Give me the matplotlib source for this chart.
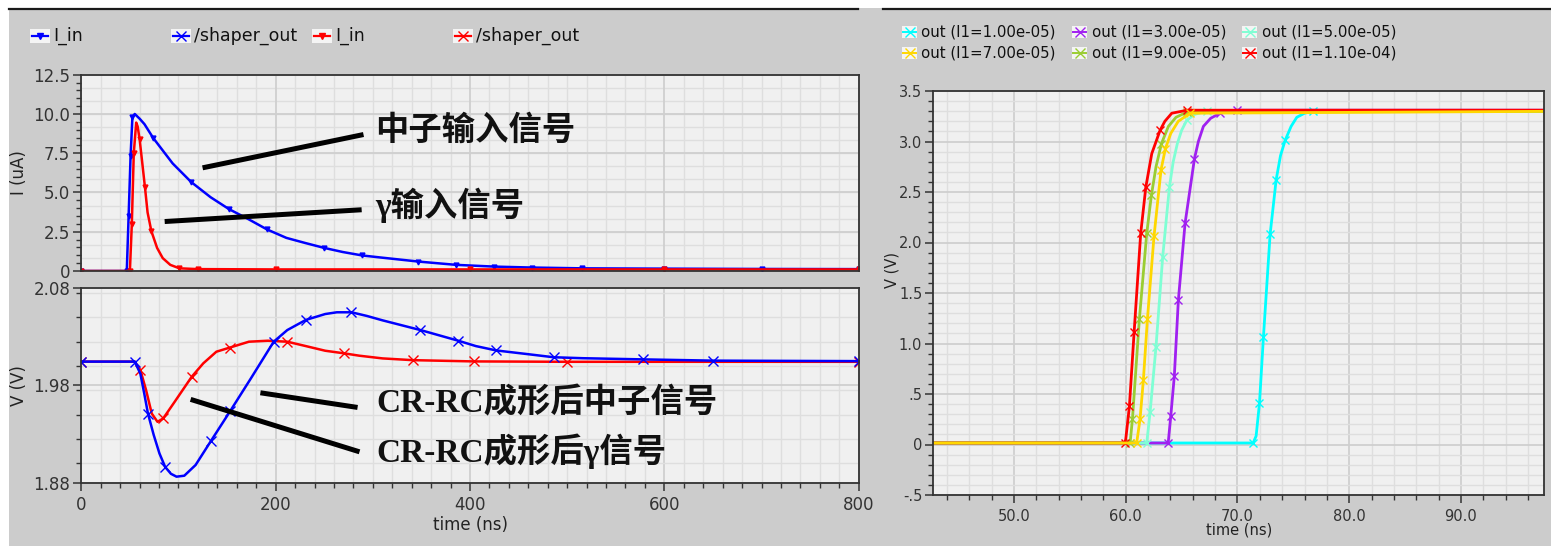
import numpy as np
import matplotlib
matplotlib.use("Agg")
import matplotlib.pyplot as plt
from matplotlib.lines import Line2D
from matplotlib.patches import Rectangle
from matplotlib.ticker import MultipleLocator

plt.rcParams["font.family"] = ["DejaVu Sans", "Noto Sans CJK SC"]

# ---------- data: left top (input currents, uA) ----------
t_neu_in = [0, 46.8, 48.7, 50.7, 52.6, 55, 60, 65, 74, 94, 113, 133, 152, 172, 191,
            211, 230, 250, 269, 289, 308, 347, 386, 425, 464, 515, 600, 700, 800]
i_neu_in = [0, 0, 3.5, 7.3, 9.8, 10.0, 9.7, 9.35, 8.47, 6.85, 5.67, 4.70, 3.94, 3.30, 2.65,
            2.11, 1.79, 1.47, 1.21, 0.99, 0.86, 0.60, 0.39, 0.28, 0.22, 0.17, 0.15, 0.13, 0.12]
t_gam_in = [0, 50, 52, 54, 56.5, 58, 60, 62.4, 65.5, 68.2, 72.1, 78, 83.8, 91.6, 101,
            120, 200, 400, 600, 800]
i_gam_in = [0, 0, 3.0, 7.5, 9.45, 9.2, 8.4, 7.07, 5.34, 3.73, 2.54, 1.47, 0.82, 0.39, 0.17,
            0.12, 0.10, 0.10, 0.10, 0.10]

# ---------- data: left bottom (CR-RC shaper output, V) ----------
t_neu_out = [0, 55, 60.8, 64.7, 68.6, 74.5, 80.4, 86.3, 92.2, 98, 106, 117.6, 133.3, 153,
             174.5, 198, 212, 231, 251, 263, 278, 294, 310, 349, 388, 406, 427, 461, 486,
             516, 578, 650, 800]
v_neu_out = [2.0045, 2.0045, 1.992, 1.972, 1.951, 1.929, 1.910, 1.896, 1.889, 1.886, 1.887,
             1.898, 1.9226, 1.9532, 1.9872, 2.025, 2.037, 2.0474, 2.0535, 2.0553, 2.0553,
             2.0515, 2.047, 2.037, 2.026, 2.0205, 2.016, 2.012, 2.009, 2.008, 2.0068,
             2.0055, 2.005]
t_gam_out = [0, 55, 60.8, 66.7, 72.5, 78.4, 84.3, 96, 113.7, 125.5, 139, 153, 172.5, 192,
             212, 231, 251, 270.6, 286, 310, 341, 404, 500, 800]
v_gam_out = [2.0045, 2.0045, 1.9958, 1.975, 1.951, 1.9425, 1.946, 1.963, 1.989, 2.0027,
             2.0147, 2.019, 2.025, 2.026, 2.025, 2.0205, 2.0157, 2.013, 2.0106, 2.0078,
             2.006, 2.0047, 2.0043, 2.0043]

# ---------- data: right (comparator out vs I1) ----------
out_labels = ["out (I1=1.00e-05)", "out (I1=3.00e-05)", "out (I1=5.00e-05)",
              "out (I1=7.00e-05)", "out (I1=9.00e-05)", "out (I1=1.10e-04)"]
out_colors = ["#00ffff", "#a020f0", "#7fffd4", "#ffd700", "#9acd32", "#ff0000"]
t_out = [
    [40, 71.4, 71.67, 71.97, 72.32, 72.92, 73.46, 73.85, 74.26, 74.8, 75.31, 76.0, 76.8, 100],
    [40, 63.8, 64.03, 64.35, 64.71, 65.31, 66.15, 66.5, 66.95, 67.6, 68.44, 69.94, 100],
    [40, 61.88, 62.18, 62.71, 63.31, 63.91, 64.25, 64.62, 65.0, 65.46, 66.2, 67.25, 100],
    [40, 60.98, 61.28, 61.58, 61.94, 62.53, 63.16, 63.55, 64.03, 64.7, 65.76, 100],
    [40, 60.39, 60.6, 61.22, 61.88, 62.3, 62.71, 63.2, 63.82, 64.5, 65.46, 100],
    [40, 59.9, 60.0, 60.33, 60.75, 61.34, 61.8, 62.33, 63.07, 63.5, 64.12, 65.5, 100],
]
v_out = [
    [0.015, 0.015, 0.085, 0.41, 1.06, 2.08, 2.62, 2.86, 3.01, 3.15, 3.24, 3.28, 3.30, 3.30],
    [0.015, 0.015, 0.28, 0.68, 1.43, 2.19, 2.83, 3.0, 3.15, 3.23, 3.28, 3.31, 3.31],
    [0.015, 0.015, 0.32, 0.97, 1.86, 2.55, 2.80, 2.98, 3.11, 3.21, 3.27, 3.30, 3.30],
    [0.015, 0.015, 0.25, 0.64, 1.24, 2.06, 2.72, 2.93, 3.08, 3.20, 3.28, 3.30],
    [0.015, 0.015, 0.25, 1.24, 2.09, 2.47, 2.75, 2.98, 3.15, 3.24, 3.29, 3.30],
    [0.015, 0.015, 0.05, 0.38, 1.11, 2.09, 2.55, 2.88, 3.11, 3.20, 3.28, 3.31, 3.31],
]
draw_order = [0, 1, 2, 4, 5, 3]

W, H = 1551, 546
fig = plt.figure(figsize=(W / 100, H / 100), dpi=100, facecolor="#cccccc")


def fx(x):
    return x / W


def fy(y):
    return 1 - y / H


def ax_at(x0, y0, x1, y1):
    return fig.add_axes([fx(x0), fy(y1), (x1 - x0) / W, (y1 - y0) / H])


def style(ax, fs):
    ax.set_facecolor("#f0f0f0")
    for s in ax.spines.values():
        s.set_color("#333333"); s.set_linewidth(1.3)
    ax.tick_params(which="major", direction="out", length=6, width=1.1,
                   colors="#333333", labelsize=fs, pad=2)
    ax.tick_params(which="minor", direction="out", length=3.5, width=1.0, colors="#333333")
    ax.set_axisbelow(True)
    ax.grid(which="major", color="#cfcfcf", lw=1.3)
    ax.grid(which="minor", color="#dedede", lw=1.0)


# white border + top rule
fig.add_artist(Rectangle((0, fy(8)), 1, 8 / H, transform=fig.transFigure,
                         facecolor="white", edgecolor="none", zorder=-5))
fig.add_artist(Rectangle((0, 0), 9 / W, 1, transform=fig.transFigure,
                         facecolor="white", edgecolor="none", zorder=-5))
for xa, xb in [(9, 858), (883, 1551)]:
    fig.add_artist(Line2D([fx(xa), fx(xb)], [fy(8.5)] * 2, transform=fig.transFigure,
                          color="#1a1a1a", lw=1.6))

# ---------- left top ----------
ax1 = ax_at(81.3, 74.7, 858.7, 271)
style(ax1, 12)
ax1.plot(t_neu_in, i_neu_in, color="#0000ff", lw=1.8, marker="v", ms=3.5,
         markevery=0.06)
ax1.plot(t_gam_in, i_gam_in, color="#ff0000", lw=1.8, marker="v", ms=3.5,
         markevery=(0.03, 0.06))
ax1.set_xlim(0, 800); ax1.set_ylim(0, 12.5)
ax1.set_xticks([0, 200, 400, 600, 800])
ax1.xaxis.set_minor_locator(MultipleLocator(20))
ax1.tick_params(axis="x", which="both", labelbottom=False, length=0)
ax1.set_yticks([0, 2.5, 5, 7.5, 10, 12.5], ["0", "2.5", "5.0", "7.5", "10.0", "12.5"])
ax1.yaxis.set_minor_locator(MultipleLocator(0.5))
ax1.grid(which="minor", axis="y", visible=False)
for yg in np.arange(0, 12.5, 2.5 / 3):
    ax1.axhline(yg, color="#dedede", lw=1.0, zorder=0.5)
ax1.set_ylabel("I (uA)", fontsize=12, color="#222222")
ax1.yaxis.set_label_coords(-0.069, 0.5)

cn = dict(family=["Liberation Serif", "Noto Sans CJK SC"], fontweight="bold",
          fontsize=24, color="#111111", va="center", ha="left")
ax1.plot([124.8, 290.4], [6.57, 8.69], color="black", lw=3.6, solid_capstyle="butt")
ax1.plot([85.8, 288.5], [3.15, 3.90], color="black", lw=3.6, solid_capstyle="butt")
ax1.text(302, 8.9, "中子输入信号", **cn)
ax1.text(302, 4.2, "γ输入信号", **cn)

# ---------- left bottom ----------
ax2 = ax_at(81.3, 288.3, 858.7, 482.5)
style(ax2, 12)
ax2.plot(t_gam_out, v_gam_out, color="#ff0000", lw=1.8, marker="x", ms=7, mew=1.0,
         markevery=(0.02, 0.068))
ax2.plot(t_neu_out, v_neu_out, color="#0000ff", lw=1.8, marker="x", ms=7, mew=1.0,
         markevery=0.068)
ax2.set_xlim(0, 800); ax2.set_ylim(1.88, 2.08)
ax2.set_xticks([0, 200, 400, 600, 800], ["0", "200", "400", "600", "800"])
ax2.xaxis.set_minor_locator(MultipleLocator(20))
ax2.set_yticks([1.88, 1.98, 2.08], ["1.88", "1.98", "2.08"])
ax2.yaxis.set_minor_locator(MultipleLocator(0.025))
ax2.tick_params(axis="x", which="major", pad=4)
ax2.set_ylabel("V (V)", fontsize=12, color="#222222")
ax2.yaxis.set_label_coords(-0.069, 0.5)
ax2.set_xlabel("time (ns)", fontsize=12, color="#222222")
ax2.xaxis.set_label_coords(0.5, -0.175)
ax2.plot([184.3, 284.3], [1.9724, 1.9573], color="black", lw=3.6, solid_capstyle="butt")
ax2.plot([112.5, 286.3], [1.9656, 1.9116], color="black", lw=3.6, solid_capstyle="butt")
ax2.text(304, 1.9615, "CR-RC成形后中子信号", **cn)
ax2.text(304, 1.9118, "CR-RC成形后γ信号", **cn)

# left legend
for x0, col, mk, lab in [(30, "#0000ff", "v", "I_in"), (171, "#0000ff", "x", "/shaper_out"),
                         (312, "#ff0000", "v", "I_in"), (453, "#ff0000", "x", "/shaper_out")]:
    fig.add_artist(Rectangle((fx(x0), fy(43)), 20 / W, 14 / H, transform=fig.transFigure,
                             facecolor="#f4f4f4", edgecolor="none"))
    fig.add_artist(Line2D([fx(x0 + 2), fx(x0 + 18)], [fy(36)] * 2, transform=fig.transFigure,
                          color=col, lw=1.6))
    fig.add_artist(Line2D([fx(x0 + 10)], [fy(36)], transform=fig.transFigure, color=col,
                          marker=mk, ms=4 if mk == "v" else 7, mew=1.0, lw=0))
    fig.text(fx(x0 + 23), fy(36), lab, fontsize=12.5, color="#111111", va="center")

# ---------- right ----------
ax3 = ax_at(933.3, 91, 1544, 495)
style(ax3, 10.5)
for k, i in enumerate(draw_order):
    ax3.plot(t_out[i], v_out[i], color=out_colors[i], lw=2.0, marker="x", ms=6, mew=1.0,
             markevery=(0.012 * k, 0.075))
ax3.set_xlim(42.78, 97.43); ax3.set_ylim(-0.5, 3.5)
ax3.set_xticks([50, 60, 70, 80, 90], ["50.0", "60.0", "70.0", "80.0", "90.0"])
ax3.xaxis.set_minor_locator(MultipleLocator(2))
ax3.set_yticks([-0.5, 0, 0.5, 1.0, 1.5, 2.0, 2.5, 3.0, 3.5],
               ["-.5", "0", ".5", "1.0", "1.5", "2.0", "2.5", "3.0", "3.5"])
ax3.yaxis.set_minor_locator(MultipleLocator(0.1))
ax3.tick_params(axis="x", which="major", pad=4)
ax3.set_xlabel("time (ns)", fontsize=10.5, color="#222222")
ax3.xaxis.set_label_coords(0.5, -0.068)
ax3.set_ylabel("V (V)", fontsize=10.5, color="#222222")
ax3.yaxis.set_label_coords(-0.056, 0.557)

# right legend
for i, lab in enumerate(out_labels):
    x0 = 902 + 170 * (i % 3)
    yc = 32 + 21 * (i // 3)
    fig.add_artist(Rectangle((fx(x0), fy(yc + 6)), 15 / W, 12 / H, transform=fig.transFigure,
                             facecolor="#f4f4f4", edgecolor="none"))
    fig.add_artist(Line2D([fx(x0 + 1), fx(x0 + 14)], [fy(yc)] * 2, transform=fig.transFigure,
                          color=out_colors[i], lw=1.4))
    fig.add_artist(Line2D([fx(x0 + 7.5)], [fy(yc)], transform=fig.transFigure,
                          color=out_colors[i], lw=0, marker="x", ms=7, mew=1.0))
    fig.text(fx(x0 + 19.5), fy(yc), lab, fontsize=10.8, color="#111111", va="center")

fig.savefig("out.png", dpi=100, facecolor=fig.get_facecolor())
